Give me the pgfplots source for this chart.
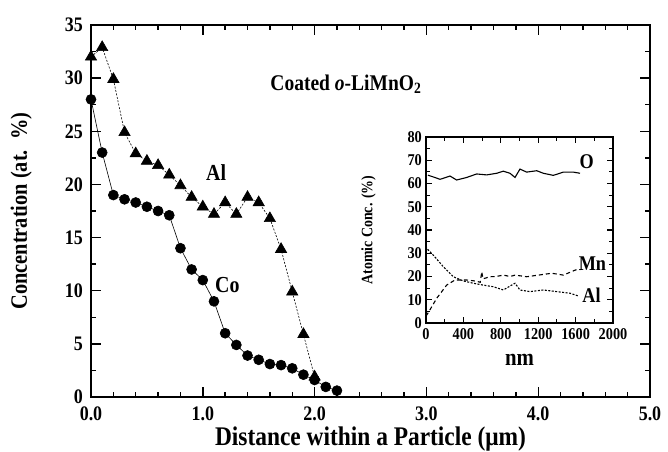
\documentclass[border=0pt]{standalone}
\usepackage{pgfplots}
\pgfplotsset{compat=1.18}
\usepackage{fontspec}
\setmainfont{Liberation Serif}[FakeStretch=0.87]
\begin{document}
\begin{tikzpicture}
\begin{axis}[name=main,
  at={(0,0)}, anchor=south west,
  width=559bp, height=372bp, scale only axis,
  xmin=0, xmax=5, ymin=0, ymax=35,
  xtick={0,1,2,3,4,5}, minor x tick num=4,
  ytick={0,5,...,35}, minor y tick num=1,
  tick pos=both, xticklabel pos=left, yticklabel pos=left,
  tick align=inside,
  major tick length=10bp, minor tick length=5bp,
  axis line style={line width=1.8bp},
  every tick/.style={line width=1.4bp, black},
  /pgf/number format/assume math mode=true,
  xticklabel={\pgfmathprintnumber[fixed,fixed zerofill,precision=1]{\tick}},
  ticklabel style={font=\bfseries\fontsize{20.7}{22}\selectfont},
  xticklabel style={inner sep=1bp, yshift=-9bp},
  yticklabel style={inner sep=1bp, xshift=-7bp},
  xlabel={Distance within a Particle (μm)},
  ylabel={Concentration (at.\hspace{0.45em}\%)},
  xlabel style={font=\bfseries\fontsize{27}{29}\selectfont, at={(axis description cs:0.5,-0.131)}, anchor=base, inner sep=0pt},
  ylabel style={font=\bfseries\fontsize{23.5}{26}\selectfont, at={(axis description cs:-0.1055,0.5)}, anchor=south, inner sep=0pt},
  clip=false,
]
\addplot[black, line width=0.6bp, mark=*, mark size=5bp] coordinates {
(0,28) (0.1,23) (0.2,19) (0.3,18.6) (0.4,18.3) (0.5,17.9) (0.6,17.5) (0.7,17.1)
(0.8,14) (0.9,12) (1.0,11) (1.1,9) (1.2,6) (1.3,4.9) (1.4,3.9) (1.5,3.5)
(1.6,3.1) (1.7,3.0) (1.8,2.7) (1.9,2.1) (2.0,1.6) (2.1,0.95) (2.2,0.6)
};
\addplot[black, line width=0.6bp, dash pattern=on 2bp off 1.5bp, mark=triangle*, mark size=6.5bp, mark options={solid}] coordinates {
(0,32) (0.1,32.9) (0.2,29.9) (0.3,24.9) (0.4,22.9) (0.5,22.2) (0.6,21.8) (0.7,20.9)
(0.8,19.9) (0.9,18.8) (1.0,17.9) (1.1,17.2) (1.2,18.3) (1.3,17.2) (1.4,18.8) (1.5,18.3)
(1.6,16.8) (1.7,13.9) (1.8,9.9) (1.9,5.9) (2.0,1.9)
};
\node[font=\bfseries\fontsize{23}{24}\selectfont] at (axis cs:1.12,21.1) {Al};
\node[font=\bfseries\fontsize{23}{24}\selectfont] at (axis cs:1.22,10.5) {Co};
\node[font=\bfseries\fontsize{22.5}{24}\selectfont] at (axis cs:2.28,29.4) {Coated \textit{o}-LiMnO\textsubscript{2}};
\end{axis}
\path (main.south west) ++(-91bp,-54bp) rectangle ++(668bp,451bp);
\begin{axis}[
  at={(335bp,74bp)}, anchor=south west,
  width=187bp, height=186bp, scale only axis,
  xmin=0, xmax=2000, ymin=0, ymax=80,
  xtick={0,400,...,2000}, minor xtick={200,600,1000,1400,1800},
  ytick={0,10,...,80}, minor ytick={5,15,...,75},
  tick pos=both, xticklabel pos=left, yticklabel pos=left,
  tick align=inside,
  major tick length=6bp, minor tick length=4bp,
  axis line style={line width=1.4bp},
  every tick/.style={line width=1.1bp, black},
  /pgf/number format/assume math mode=true,
  /pgf/number format/1000 sep={},
  ticklabel style={font=\bfseries\fontsize{16.5}{17}\selectfont},
  xticklabel style={yshift=-2bp},
  yticklabel style={inner sep=2bp, xshift=-2bp},
  xlabel={nm}, ylabel={Atomic Conc. (\%)},
  xlabel style={font=\bfseries\fontsize{24}{25}\selectfont, at={(axis description cs:0.5,-0.2258)}, anchor=base, inner sep=0pt},
  ylabel style={font=\bfseries\fontsize{16}{17}\selectfont, at={(axis description cs:-0.267,0.5)}, anchor=south, inner sep=0pt},
  axis background/.style={fill=white},
  clip=false,
]
\addplot[black, line width=1.1bp] coordinates {
(20,63.6) (80,62.8) (150,61.8) (257,63.2) (328,61.5) (435,62.6) (542,64.1) (649,63.7)
(756,64.4) (827,65.3) (898,64.4) (952,62.6) (1005,66.2) (1077,64.9) (1184,65.5)
(1255,64.4) (1362,63.5) (1469,64.9) (1576,64.9) (1647,64.4)
};
\addplot[black, line width=1.1bp, dash pattern=on 4bp off 3bp] coordinates {
(0,3) (25,4.5) (114,10.6) (221,16.3) (310,18.5) (435,18.5) (540,18) (580,17.5)
(596,22) (610,19) (685,19.9) (750,20) (827,20.6) (900,20) (952,20.6) (1077,19.9)
(1203,20.6) (1345,21.4) (1469,20.6) (1598,22.8) (1650,23)
};
\addplot[black, line width=1.1bp, dash pattern=on 2bp off 1.5bp] coordinates {
(0,33) (7,32.1) (78,29.2) (185,24.2) (292,19.9) (399,18.1) (506,17.1) (613,16.3)
(720,15.6) (827,14.2) (916,16.3) (952,17.1) (1005,14.2) (1112,13.5) (1255,14.2)
(1398,13.5) (1541,12.8) (1630,11.6)
};
\node[font=\bfseries\fontsize{21}{22}\selectfont] at (axis cs:1720,69.4) {O};
\node[font=\bfseries\fontsize{21}{22}\selectfont] at (axis cs:1780,25.7) {Mn};
\node[font=\bfseries\fontsize{21}{22}\selectfont] at (axis cs:1770,12) {Al};
\end{axis}
\end{tikzpicture}
\end{document}
